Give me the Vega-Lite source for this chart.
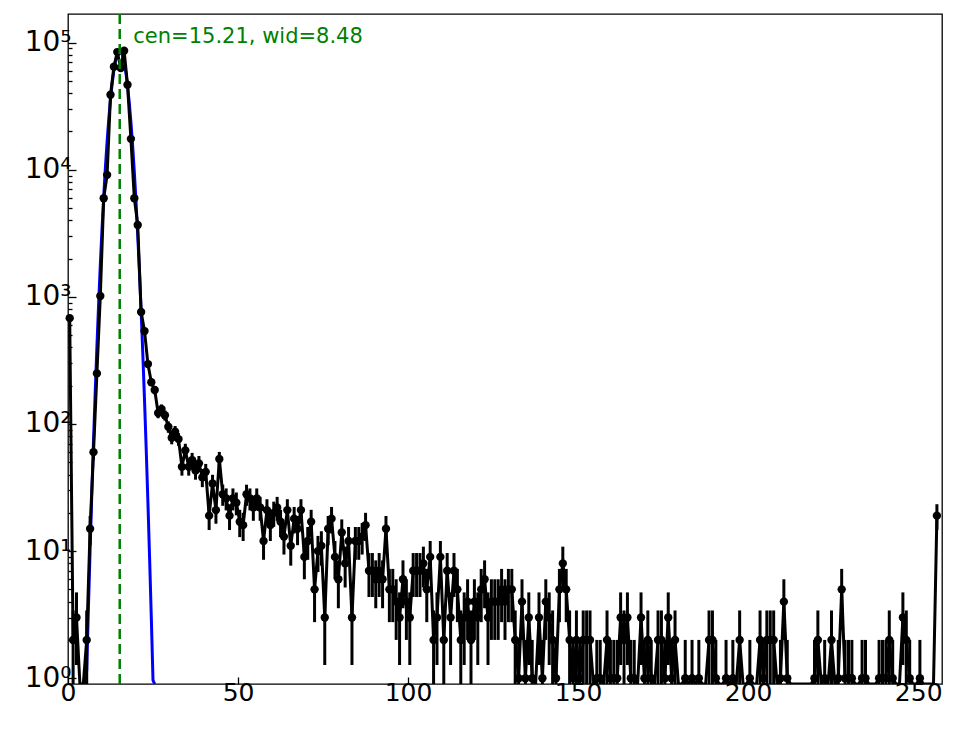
{
  "$schema": "https://vega.github.io/schema/vega-lite/v6.json",
  "width": 874,
  "height": 670,
  "autosize": {"type": "none"},
  "padding": {"left": 68, "top": 14, "right": 22, "bottom": 45},
  "config": {
    "view": {"stroke": "#000000", "strokeWidth": 1.3},
    "font": "DejaVu Sans",
    "axis": {
      "domain": false,
      "grid": false,
      "labelFont": "DejaVu Sans",
      "labelFontSize": 25,
      "labelColor": "#000000",
      "tickColor": "#000000",
      "tickWidth": 1.3,
      "labelOverlap": false,
      "labelFlush": false
    }
  },
  "datasets": {
    "hist": [
      {"x": 0.5, "c": 680, "lo": 654, "hi": 706},
      {"x": 1.5, "c": 2, "lo": 0.59, "hi": 3.41},
      {"x": 2.5, "c": 3, "lo": 1.27, "hi": 4.73},
      {"x": 3.5, "c": 0},
      {"x": 4.5, "c": 0},
      {"x": 5.5, "c": 2, "lo": 0.59, "hi": 3.41},
      {"x": 6.5, "c": 15, "lo": 11.13, "hi": 18.87},
      {"x": 7.5, "c": 60, "lo": 52.25, "hi": 67.75},
      {"x": 8.5, "c": 250, "lo": 234.2, "hi": 265.8},
      {"x": 9.5, "c": 1016, "lo": 984, "hi": 1048},
      {"x": 10.5, "c": 5970, "lo": 5893, "hi": 6047},
      {"x": 11.5, "c": 9120, "lo": 9025, "hi": 9215},
      {"x": 12.5, "c": 38900, "lo": 38703, "hi": 39097},
      {"x": 13.5, "c": 64600, "lo": 64346, "hi": 64854},
      {"x": 14.5, "c": 84300, "lo": 84010, "hi": 84590},
      {"x": 15.5, "c": 63100, "lo": 62849, "hi": 63351},
      {"x": 16.5, "c": 86300, "lo": 86006, "hi": 86594},
      {"x": 17.5, "c": 46600, "lo": 46384, "hi": 46816},
      {"x": 18.5, "c": 17500, "lo": 17368, "hi": 17632},
      {"x": 19.5, "c": 5970, "lo": 5893, "hi": 6047},
      {"x": 20.5, "c": 3680, "lo": 3619, "hi": 3741},
      {"x": 21.5, "c": 760, "lo": 732.4, "hi": 787.6},
      {"x": 22.5, "c": 538, "lo": 514.8, "hi": 561.2},
      {"x": 23.5, "c": 296, "lo": 278.8, "hi": 313.2},
      {"x": 24.5, "c": 213, "lo": 198.4, "hi": 227.6},
      {"x": 25.5, "c": 185, "lo": 171.4, "hi": 198.6},
      {"x": 26.5, "c": 122, "lo": 110.95, "hi": 133.05},
      {"x": 27.5, "c": 131, "lo": 119.55, "hi": 142.45},
      {"x": 28.5, "c": 117, "lo": 106.18, "hi": 127.82},
      {"x": 29.5, "c": 95, "lo": 85.25, "hi": 104.75},
      {"x": 30.5, "c": 78, "lo": 69.17, "hi": 86.83},
      {"x": 31.5, "c": 87, "lo": 77.67, "hi": 96.33},
      {"x": 32.5, "c": 76, "lo": 67.28, "hi": 84.72},
      {"x": 33.5, "c": 46, "lo": 39.22, "hi": 52.78},
      {"x": 34.5, "c": 62, "lo": 54.13, "hi": 69.87},
      {"x": 35.5, "c": 46, "lo": 39.22, "hi": 52.78},
      {"x": 36.5, "c": 52, "lo": 44.79, "hi": 59.21},
      {"x": 37.5, "c": 43, "lo": 36.44, "hi": 49.56},
      {"x": 38.5, "c": 49, "lo": 42, "hi": 56},
      {"x": 39.5, "c": 38, "lo": 31.84, "hi": 44.16},
      {"x": 40.5, "c": 42, "lo": 35.52, "hi": 48.48},
      {"x": 41.5, "c": 19, "lo": 14.64, "hi": 23.36},
      {"x": 42.5, "c": 34, "lo": 28.17, "hi": 39.83},
      {"x": 43.5, "c": 21, "lo": 16.42, "hi": 25.58},
      {"x": 44.5, "c": 53, "lo": 45.72, "hi": 60.28},
      {"x": 45.5, "c": 28, "lo": 22.71, "hi": 33.29},
      {"x": 46.5, "c": 26, "lo": 20.9, "hi": 31.1},
      {"x": 47.5, "c": 19, "lo": 14.64, "hi": 23.36},
      {"x": 48.5, "c": 26, "lo": 20.9, "hi": 31.1},
      {"x": 49.5, "c": 24, "lo": 19.1, "hi": 28.9},
      {"x": 50.5, "c": 17, "lo": 12.88, "hi": 21.12},
      {"x": 51.5, "c": 16, "lo": 12, "hi": 20},
      {"x": 52.5, "c": 28, "lo": 22.71, "hi": 33.29},
      {"x": 53.5, "c": 26, "lo": 20.9, "hi": 31.1},
      {"x": 54.5, "c": 22, "lo": 17.31, "hi": 26.69},
      {"x": 55.5, "c": 26, "lo": 20.9, "hi": 31.1},
      {"x": 56.5, "c": 22, "lo": 17.31, "hi": 26.69},
      {"x": 57.5, "c": 12, "lo": 8.54, "hi": 15.46},
      {"x": 58.5, "c": 21, "lo": 16.42, "hi": 25.58},
      {"x": 59.5, "c": 16, "lo": 12, "hi": 20},
      {"x": 60.5, "c": 20, "lo": 15.53, "hi": 24.47},
      {"x": 61.5, "c": 22, "lo": 17.31, "hi": 26.69},
      {"x": 62.5, "c": 17, "lo": 12.88, "hi": 21.12},
      {"x": 63.5, "c": 13, "lo": 9.39, "hi": 16.61},
      {"x": 64.5, "c": 21, "lo": 16.42, "hi": 25.58},
      {"x": 65.5, "c": 11, "lo": 7.68, "hi": 14.32},
      {"x": 66.5, "c": 18, "lo": 13.76, "hi": 22.24},
      {"x": 67.5, "c": 15, "lo": 11.13, "hi": 18.87},
      {"x": 68.5, "c": 21, "lo": 16.42, "hi": 25.58},
      {"x": 69.5, "c": 9, "lo": 6, "hi": 12},
      {"x": 70.5, "c": 12, "lo": 8.54, "hi": 15.46},
      {"x": 71.5, "c": 17, "lo": 12.88, "hi": 21.12},
      {"x": 72.5, "c": 5, "lo": 2.76, "hi": 7.24},
      {"x": 73.5, "c": 10, "lo": 6.84, "hi": 13.16},
      {"x": 74.5, "c": 11, "lo": 7.68, "hi": 14.32},
      {"x": 75.5, "c": 3, "lo": 1.27, "hi": 4.73},
      {"x": 76.5, "c": 15, "lo": 11.13, "hi": 18.87},
      {"x": 77.5, "c": 18, "lo": 13.76, "hi": 22.24},
      {"x": 78.5, "c": 9, "lo": 6, "hi": 12},
      {"x": 79.5, "c": 6, "lo": 3.55, "hi": 8.45},
      {"x": 80.5, "c": 14, "lo": 10.26, "hi": 17.74},
      {"x": 81.5, "c": 8, "lo": 5.17, "hi": 10.83},
      {"x": 82.5, "c": 12, "lo": 8.54, "hi": 15.46},
      {"x": 83.5, "c": 3, "lo": 1.27, "hi": 4.73},
      {"x": 84.5, "c": 12, "lo": 8.54, "hi": 15.46},
      {"x": 85.5, "c": 12, "lo": 8.54, "hi": 15.46},
      {"x": 86.5, "c": 13, "lo": 9.39, "hi": 16.61},
      {"x": 87.5, "c": 16, "lo": 12, "hi": 20},
      {"x": 88.5, "c": 7, "lo": 4.35, "hi": 9.65},
      {"x": 89.5, "c": 7, "lo": 4.35, "hi": 9.65},
      {"x": 90.5, "c": 6, "lo": 3.55, "hi": 8.45},
      {"x": 91.5, "c": 7, "lo": 4.35, "hi": 9.65},
      {"x": 92.5, "c": 6, "lo": 3.55, "hi": 8.45},
      {"x": 93.5, "c": 15, "lo": 11.13, "hi": 18.87},
      {"x": 94.5, "c": 5, "lo": 2.76, "hi": 7.24},
      {"x": 95.5, "c": 5, "lo": 2.76, "hi": 7.24},
      {"x": 96.5, "c": 4, "lo": 2, "hi": 6},
      {"x": 97.5, "c": 3, "lo": 1.27, "hi": 4.73},
      {"x": 98.5, "c": 6, "lo": 3.55, "hi": 8.45},
      {"x": 99.5, "c": 4, "lo": 2, "hi": 6},
      {"x": 100.5, "c": 3, "lo": 1.27, "hi": 4.73},
      {"x": 101.5, "c": 7, "lo": 4.35, "hi": 9.65},
      {"x": 102.5, "c": 7, "lo": 4.35, "hi": 9.65},
      {"x": 103.5, "c": 7, "lo": 4.35, "hi": 9.65},
      {"x": 104.5, "c": 8, "lo": 5.17, "hi": 10.83},
      {"x": 105.5, "c": 5, "lo": 2.76, "hi": 7.24},
      {"x": 106.5, "c": 9, "lo": 6, "hi": 12},
      {"x": 107.5, "c": 2, "lo": 0.59, "hi": 3.41},
      {"x": 108.5, "c": 3, "lo": 1.27, "hi": 4.73},
      {"x": 109.5, "c": 9, "lo": 6, "hi": 12},
      {"x": 110.5, "c": 2, "lo": 0.59, "hi": 3.41},
      {"x": 111.5, "c": 7, "lo": 4.35, "hi": 9.65},
      {"x": 112.5, "c": 3, "lo": 1.27, "hi": 4.73},
      {"x": 113.5, "c": 7, "lo": 4.35, "hi": 9.65},
      {"x": 114.5, "c": 5, "lo": 2.76, "hi": 7.24},
      {"x": 115.5, "c": 2, "lo": 0.59, "hi": 3.41},
      {"x": 116.5, "c": 3, "lo": 1.27, "hi": 4.73},
      {"x": 117.5, "c": 4, "lo": 2, "hi": 6},
      {"x": 118.5, "c": 2, "lo": 0.59, "hi": 3.41},
      {"x": 119.5, "c": 4, "lo": 2, "hi": 6},
      {"x": 120.5, "c": 3, "lo": 1.27, "hi": 4.73},
      {"x": 121.5, "c": 5, "lo": 2.76, "hi": 7.24},
      {"x": 122.5, "c": 6, "lo": 3.55, "hi": 8.45},
      {"x": 123.5, "c": 3, "lo": 1.27, "hi": 4.73},
      {"x": 124.5, "c": 4, "lo": 2, "hi": 6},
      {"x": 125.5, "c": 4, "lo": 2, "hi": 6},
      {"x": 126.5, "c": 4, "lo": 2, "hi": 6},
      {"x": 127.5, "c": 5, "lo": 2.76, "hi": 7.24},
      {"x": 128.5, "c": 4, "lo": 2, "hi": 6},
      {"x": 129.5, "c": 5, "lo": 2.76, "hi": 7.24},
      {"x": 130.5, "c": 5, "lo": 2.76, "hi": 7.24},
      {"x": 131.5, "c": 2, "lo": 0.59, "hi": 3.41},
      {"x": 132.5, "c": 1, "lo": 0, "hi": 2},
      {"x": 133.5, "c": 4, "lo": 2, "hi": 6},
      {"x": 134.5, "c": 1, "lo": 0, "hi": 2},
      {"x": 135.5, "c": 3, "lo": 1.27, "hi": 4.73},
      {"x": 136.5, "c": 1, "lo": 0, "hi": 2},
      {"x": 137.5, "c": 0},
      {"x": 138.5, "c": 3, "lo": 1.27, "hi": 4.73},
      {"x": 139.5, "c": 1, "lo": 0, "hi": 2},
      {"x": 140.5, "c": 4, "lo": 2, "hi": 6},
      {"x": 141.5, "c": 3, "lo": 1.27, "hi": 4.73},
      {"x": 142.5, "c": 2, "lo": 0.59, "hi": 3.41},
      {"x": 143.5, "c": 1, "lo": 0, "hi": 2},
      {"x": 144.5, "c": 5, "lo": 2.76, "hi": 7.24},
      {"x": 145.5, "c": 8, "lo": 5.17, "hi": 10.83},
      {"x": 146.5, "c": 5, "lo": 2.76, "hi": 7.24},
      {"x": 147.5, "c": 2, "lo": 0.59, "hi": 3.41},
      {"x": 148.5, "c": 1, "lo": 0, "hi": 2},
      {"x": 149.5, "c": 2, "lo": 0.59, "hi": 3.41},
      {"x": 150.5, "c": 1, "lo": 0, "hi": 2},
      {"x": 151.5, "c": 2, "lo": 0.59, "hi": 3.41},
      {"x": 152.5, "c": 2, "lo": 0.59, "hi": 3.41},
      {"x": 153.5, "c": 2, "lo": 0.59, "hi": 3.41},
      {"x": 154.5, "c": 0},
      {"x": 155.5, "c": 1, "lo": 0, "hi": 2},
      {"x": 156.5, "c": 1, "lo": 0, "hi": 2},
      {"x": 157.5, "c": 0},
      {"x": 158.5, "c": 2, "lo": 0.59, "hi": 3.41},
      {"x": 159.5, "c": 1, "lo": 0, "hi": 2},
      {"x": 160.5, "c": 1, "lo": 0, "hi": 2},
      {"x": 161.5, "c": 1, "lo": 0, "hi": 2},
      {"x": 162.5, "c": 3, "lo": 1.27, "hi": 4.73},
      {"x": 163.5, "c": 2, "lo": 0.59, "hi": 3.41},
      {"x": 164.5, "c": 3, "lo": 1.27, "hi": 4.73},
      {"x": 165.5, "c": 1, "lo": 0, "hi": 2},
      {"x": 166.5, "c": 1, "lo": 0, "hi": 2},
      {"x": 167.5, "c": 0},
      {"x": 168.5, "c": 3, "lo": 1.27, "hi": 4.73},
      {"x": 169.5, "c": 1, "lo": 0, "hi": 2},
      {"x": 170.5, "c": 2, "lo": 0.59, "hi": 3.41},
      {"x": 171.5, "c": 1, "lo": 0, "hi": 2},
      {"x": 172.5, "c": 0},
      {"x": 173.5, "c": 2, "lo": 0.59, "hi": 3.41},
      {"x": 174.5, "c": 2, "lo": 0.59, "hi": 3.41},
      {"x": 175.5, "c": 1, "lo": 0, "hi": 2},
      {"x": 176.5, "c": 3, "lo": 1.27, "hi": 4.73},
      {"x": 177.5, "c": 1, "lo": 0, "hi": 2},
      {"x": 178.5, "c": 2, "lo": 0.59, "hi": 3.41},
      {"x": 179.5, "c": 0},
      {"x": 180.5, "c": 0},
      {"x": 181.5, "c": 1, "lo": 0, "hi": 2},
      {"x": 182.5, "c": 0},
      {"x": 183.5, "c": 1, "lo": 0, "hi": 2},
      {"x": 184.5, "c": 0},
      {"x": 185.5, "c": 1, "lo": 0, "hi": 2},
      {"x": 186.5, "c": 0},
      {"x": 187.5, "c": 0},
      {"x": 188.5, "c": 2, "lo": 0.59, "hi": 3.41},
      {"x": 189.5, "c": 2, "lo": 0.59, "hi": 3.41},
      {"x": 190.5, "c": 1, "lo": 0, "hi": 2},
      {"x": 191.5, "c": 0},
      {"x": 192.5, "c": 0},
      {"x": 193.5, "c": 1, "lo": 0, "hi": 2},
      {"x": 194.5, "c": 0},
      {"x": 195.5, "c": 1, "lo": 0, "hi": 2},
      {"x": 196.5, "c": 0},
      {"x": 197.5, "c": 2, "lo": 0.59, "hi": 3.41},
      {"x": 198.5, "c": 0},
      {"x": 199.5, "c": 0},
      {"x": 200.5, "c": 1, "lo": 0, "hi": 2},
      {"x": 201.5, "c": 0},
      {"x": 202.5, "c": 0},
      {"x": 203.5, "c": 2, "lo": 0.59, "hi": 3.41},
      {"x": 204.5, "c": 1, "lo": 0, "hi": 2},
      {"x": 205.5, "c": 2, "lo": 0.59, "hi": 3.41},
      {"x": 206.5, "c": 2, "lo": 0.59, "hi": 3.41},
      {"x": 207.5, "c": 2, "lo": 0.59, "hi": 3.41},
      {"x": 208.5, "c": 0},
      {"x": 209.5, "c": 1, "lo": 0, "hi": 2},
      {"x": 210.5, "c": 4, "lo": 2, "hi": 6},
      {"x": 211.5, "c": 1, "lo": 0, "hi": 2},
      {"x": 212.5, "c": 0},
      {"x": 213.5, "c": 0},
      {"x": 214.5, "c": 0},
      {"x": 215.5, "c": 0},
      {"x": 216.5, "c": 0},
      {"x": 217.5, "c": 0},
      {"x": 218.5, "c": 0},
      {"x": 219.5, "c": 1, "lo": 0, "hi": 2},
      {"x": 220.5, "c": 2, "lo": 0.59, "hi": 3.41},
      {"x": 221.5, "c": 0},
      {"x": 222.5, "c": 1, "lo": 0, "hi": 2},
      {"x": 223.5, "c": 0},
      {"x": 224.5, "c": 2, "lo": 0.59, "hi": 3.41},
      {"x": 225.5, "c": 0},
      {"x": 226.5, "c": 1, "lo": 0, "hi": 2},
      {"x": 227.5, "c": 5, "lo": 2.76, "hi": 7.24},
      {"x": 228.5, "c": 1, "lo": 0, "hi": 2},
      {"x": 229.5, "c": 1, "lo": 0, "hi": 2},
      {"x": 230.5, "c": 1, "lo": 0, "hi": 2},
      {"x": 231.5, "c": 0},
      {"x": 232.5, "c": 0},
      {"x": 233.5, "c": 1, "lo": 0, "hi": 2},
      {"x": 234.5, "c": 1, "lo": 0, "hi": 2},
      {"x": 235.5, "c": 0},
      {"x": 236.5, "c": 0},
      {"x": 237.5, "c": 0},
      {"x": 238.5, "c": 1, "lo": 0, "hi": 2},
      {"x": 239.5, "c": 1, "lo": 0, "hi": 2},
      {"x": 240.5, "c": 1, "lo": 0, "hi": 2},
      {"x": 241.5, "c": 2, "lo": 0.59, "hi": 3.41},
      {"x": 242.5, "c": 1, "lo": 0, "hi": 2},
      {"x": 243.5, "c": 0},
      {"x": 244.5, "c": 0},
      {"x": 245.5, "c": 3, "lo": 1.27, "hi": 4.73},
      {"x": 246.5, "c": 2, "lo": 0.59, "hi": 3.41},
      {"x": 247.5, "c": 1, "lo": 0, "hi": 2},
      {"x": 248.5, "c": 0},
      {"x": 249.5, "c": 0},
      {"x": 250.5, "c": 1, "lo": 0, "hi": 2},
      {"x": 251.5, "c": 0},
      {"x": 252.5, "c": 0},
      {"x": 253.5, "c": 0},
      {"x": 254.5, "c": 0},
      {"x": 255.5, "c": 19, "lo": 14.64, "hi": 23.36}
    ],
    "fit": [
      {"x": 5.0, "f": 0.35}, {"x": 5.5, "f": 1.15}, {"x": 6.0, "f": 3.56}, {"x": 6.5, "f": 10.3},
      {"x": 7.0, "f": 28.3}, {"x": 7.5, "f": 73}, {"x": 8.0, "f": 177}, {"x": 8.5, "f": 405},
      {"x": 9.0, "f": 874}, {"x": 9.5, "f": 1778}, {"x": 10.0, "f": 3405}, {"x": 10.5, "f": 6140},
      {"x": 11.0, "f": 10440}, {"x": 11.5, "f": 16720}, {"x": 12.0, "f": 25240}, {"x": 12.5, "f": 35900},
      {"x": 13.0, "f": 48100}, {"x": 13.5, "f": 60730}, {"x": 14.0, "f": 72250}, {"x": 14.5, "f": 81000},
      {"x": 15.0, "f": 85550}, {"x": 15.5, "f": 85140}, {"x": 16.0, "f": 79840}, {"x": 16.5, "f": 70550},
      {"x": 17.0, "f": 58740}, {"x": 17.5, "f": 46090}, {"x": 18.0, "f": 34060}, {"x": 18.5, "f": 23730},
      {"x": 19.0, "f": 15570}, {"x": 19.5, "f": 9625}, {"x": 20.0, "f": 5610}, {"x": 20.5, "f": 3081},
      {"x": 21.0, "f": 1594}, {"x": 21.5, "f": 777}, {"x": 22.0, "f": 357}, {"x": 22.5, "f": 154},
      {"x": 23.0, "f": 63}, {"x": 23.5, "f": 24.2}, {"x": 24.0, "f": 8.75}, {"x": 24.5, "f": 2.98},
      {"x": 25.0, "f": 0.96}, {"x": 25.5, "f": 0.29}
    ]
  },
  "layer": [
    {
      "data": {"name": "fit"},
      "mark": {"type": "line", "color": "#0000ff", "strokeWidth": 3, "clip": true},
      "encoding": {
        "x": {
          "field": "x",
          "type": "quantitative",
          "title": null,
          "scale": {"domain": [0, 257], "nice": false, "zero": false},
          "axis": {
            "values": [0, 50, 100, 150, 200, 250],
            "tickSize": -7,
            "labelPadding": 3
          }
        },
        "y": {
          "field": "f",
          "type": "quantitative",
          "title": null,
          "scale": {"type": "log", "domain": [0.9, 168000], "nice": false, "clamp": true},
          "axis": {
            "values": [1, 2, 3, 4, 5, 6, 7, 8, 9, 10, 20, 30, 40, 50, 60, 70, 80, 90, 100, 200, 300, 400, 500, 600, 700, 800, 900, 1000, 2000, 3000, 4000, 5000, 6000, 7000, 8000, 9000, 10000, 20000, 30000, 40000, 50000, 60000, 70000, 80000, 90000, 100000],
            "tickSize": {
              "condition": {"test": "datum.value === 1 || datum.value === 10 || datum.value === 100 || datum.value === 1000 || datum.value === 10000 || datum.value === 100000", "value": -8},
              "value": -4
            },
            "labelPadding": 5,
            "labelFontSize": 28,
            "labelExpr": "datum.value === 1 ? '10⁰' : datum.value === 10 ? '10¹' : datum.value === 100 ? '10²' : datum.value === 1000 ? '10³' : datum.value === 10000 ? '10⁴' : datum.value === 100000 ? '10⁵' : ''"
          }
        }
      }
    },
    {
      "data": {"name": "hist"},
      "mark": {"type": "line", "color": "#000000", "strokeWidth": 3, "clip": true},
      "encoding": {
        "x": {"field": "x", "type": "quantitative", "title": null},
        "y": {"field": "c", "type": "quantitative", "title": null}
      }
    },
    {
      "data": {"name": "hist"},
      "transform": [{"filter": "datum.c > 0"}],
      "mark": {"type": "rule", "color": "#000000", "strokeWidth": 3, "clip": true},
      "encoding": {
        "x": {"field": "x", "type": "quantitative", "title": null},
        "y": {"field": "lo", "type": "quantitative", "title": null},
        "y2": {"field": "hi"}
      }
    },
    {
      "data": {"name": "hist"},
      "transform": [{"filter": "datum.c > 0"}],
      "mark": {"type": "circle", "color": "#000000", "opacity": 1, "size": 70},
      "encoding": {
        "x": {"field": "x", "type": "quantitative", "title": null},
        "y": {"field": "c", "type": "quantitative", "title": null}
      }
    },
    {
      "data": {"values": [{"cen": 15.21}]},
      "mark": {"type": "rule", "color": "#008000", "strokeWidth": 2.5, "strokeDash": [10, 5]},
      "encoding": {
        "x": {"field": "cen", "type": "quantitative", "title": null}
      }
    },
    {
      "data": {"values": [{"tx": 19.2, "ty": 100000, "label": "cen=15.21, wid=8.48"}]},
      "mark": {"type": "text", "align": "left", "baseline": "alphabetic", "color": "#008000", "fontSize": 21, "font": "DejaVu Sans"},
      "encoding": {
        "x": {"field": "tx", "type": "quantitative", "title": null},
        "y": {"field": "ty", "type": "quantitative", "title": null},
        "text": {"field": "label"}
      }
    }
  ]
}
